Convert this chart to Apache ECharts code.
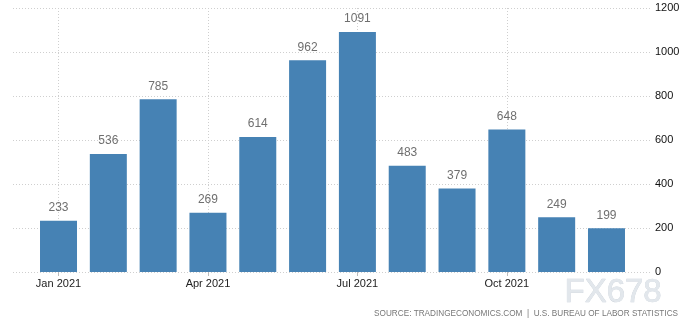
<!DOCTYPE html>
<html>
<head>
<meta charset="utf-8">
<style>
  html, body { margin: 0; padding: 0; background: #ffffff; }
  #chart { width: 692px; height: 327px; }
</style>
<script src="https://cdn.jsdelivr.net/npm/echarts@6/dist/echarts.min.js"></script>
</head>
<body>
<div id="chart"></div>
<script>
// Monthly values, 2021
const months = ['Jan 2021', 'Feb 2021', 'Mar 2021', 'Apr 2021', 'May 2021', 'Jun 2021',
                'Jul 2021', 'Aug 2021', 'Sep 2021', 'Oct 2021', 'Nov 2021', 'Dec 2021'];
const values = [233, 536, 785, 269, 614, 962, 1091, 483, 379, 648, 249, 199];
const yTicks = [0, 200, 400, 600, 800, 1000, 1200];

const yMin = yTicks[0];
const yMax = yTicks[yTicks.length - 1];
const yStep = yTicks[1] - yTicks[0];

const chart = echarts.init(document.getElementById('chart'), null, { renderer: 'canvas' });

const dotted = { color: '#cfcfcf', width: 1, type: [1, 2] };
const labelFont = 'Liberation Sans, Arial, sans-serif';

chart.setOption({
  animation: false,
  backgroundColor: '#ffffff',
  grid: [
    // horizontal guides + value axis
    { left: 13, right: 40, top: 8, height: 264 },
    // month guides + month labels
    { left: 58.5, right: 85.5, top: 8, height: 264 },
    // bars
    { left: 33.6, right: 60.6, top: 8, height: 264 }
  ],
  xAxis: [
    { gridIndex: 0, type: 'category', data: months, show: false },
    {
      gridIndex: 1, type: 'category', data: months, boundaryGap: false,
      axisLine: { show: false },
      axisTick: { show: true, interval: 2, length: 4, lineStyle: { color: '#bbbbbb' } },
      axisLabel: { interval: 2, color: '#222222', fontSize: 11, fontFamily: labelFont, margin: 6 },
      splitLine: { show: true, interval: 2, lineStyle: dotted }
    },
    { gridIndex: 2, type: 'category', data: months, show: false }
  ],
  yAxis: [
    {
      gridIndex: 0, type: 'value', position: 'right', min: yMin, max: yMax, interval: yStep,
      axisLine: { show: false }, axisTick: { show: false },
      axisLabel: {
        color: '#111111', fontSize: 11, fontFamily: labelFont, margin: 3, align: 'left',
        formatter: v => String(v)
      },
      splitLine: { show: true, lineStyle: dotted }
    },
    { gridIndex: 1, type: 'value', min: yMin, max: yMax, interval: yStep, show: false, splitLine: { show: false } },
    { gridIndex: 2, type: 'value', min: yMin, max: yMax, interval: yStep, show: false, splitLine: { show: false } }
  ],
  series: [{
    type: 'bar',
    xAxisIndex: 2,
    yAxisIndex: 2,
    data: values,
    barWidth: 37,
    itemStyle: { color: '#4682b4' },
    label: {
      show: true,
      position: 'top',
      distance: 7,
      color: '#6f6f6f',
      fontSize: 12,
      fontFamily: labelFont
    }
  }],
  graphic: [
    {
      type: 'text',
      right: 30,
      top: 276,
      style: {
        text: 'FX678',
        fontSize: 33,
        fontFamily: labelFont,
        fill: '#e2e7ec',
        stroke: '#cbd2da',
        lineWidth: 0.6
      }
    },
    {
      type: 'text',
      right: 14,
      top: 310,
      style: {
        text: 'SOURCE: TRADINGECONOMICS.COM  |  U.S. BUREAU OF LABOR STATISTICS',
        fontSize: 8.2,
        fontFamily: labelFont,
        fill: '#777777'
      }
    }
  ]
});
</script>
</body>
</html>
